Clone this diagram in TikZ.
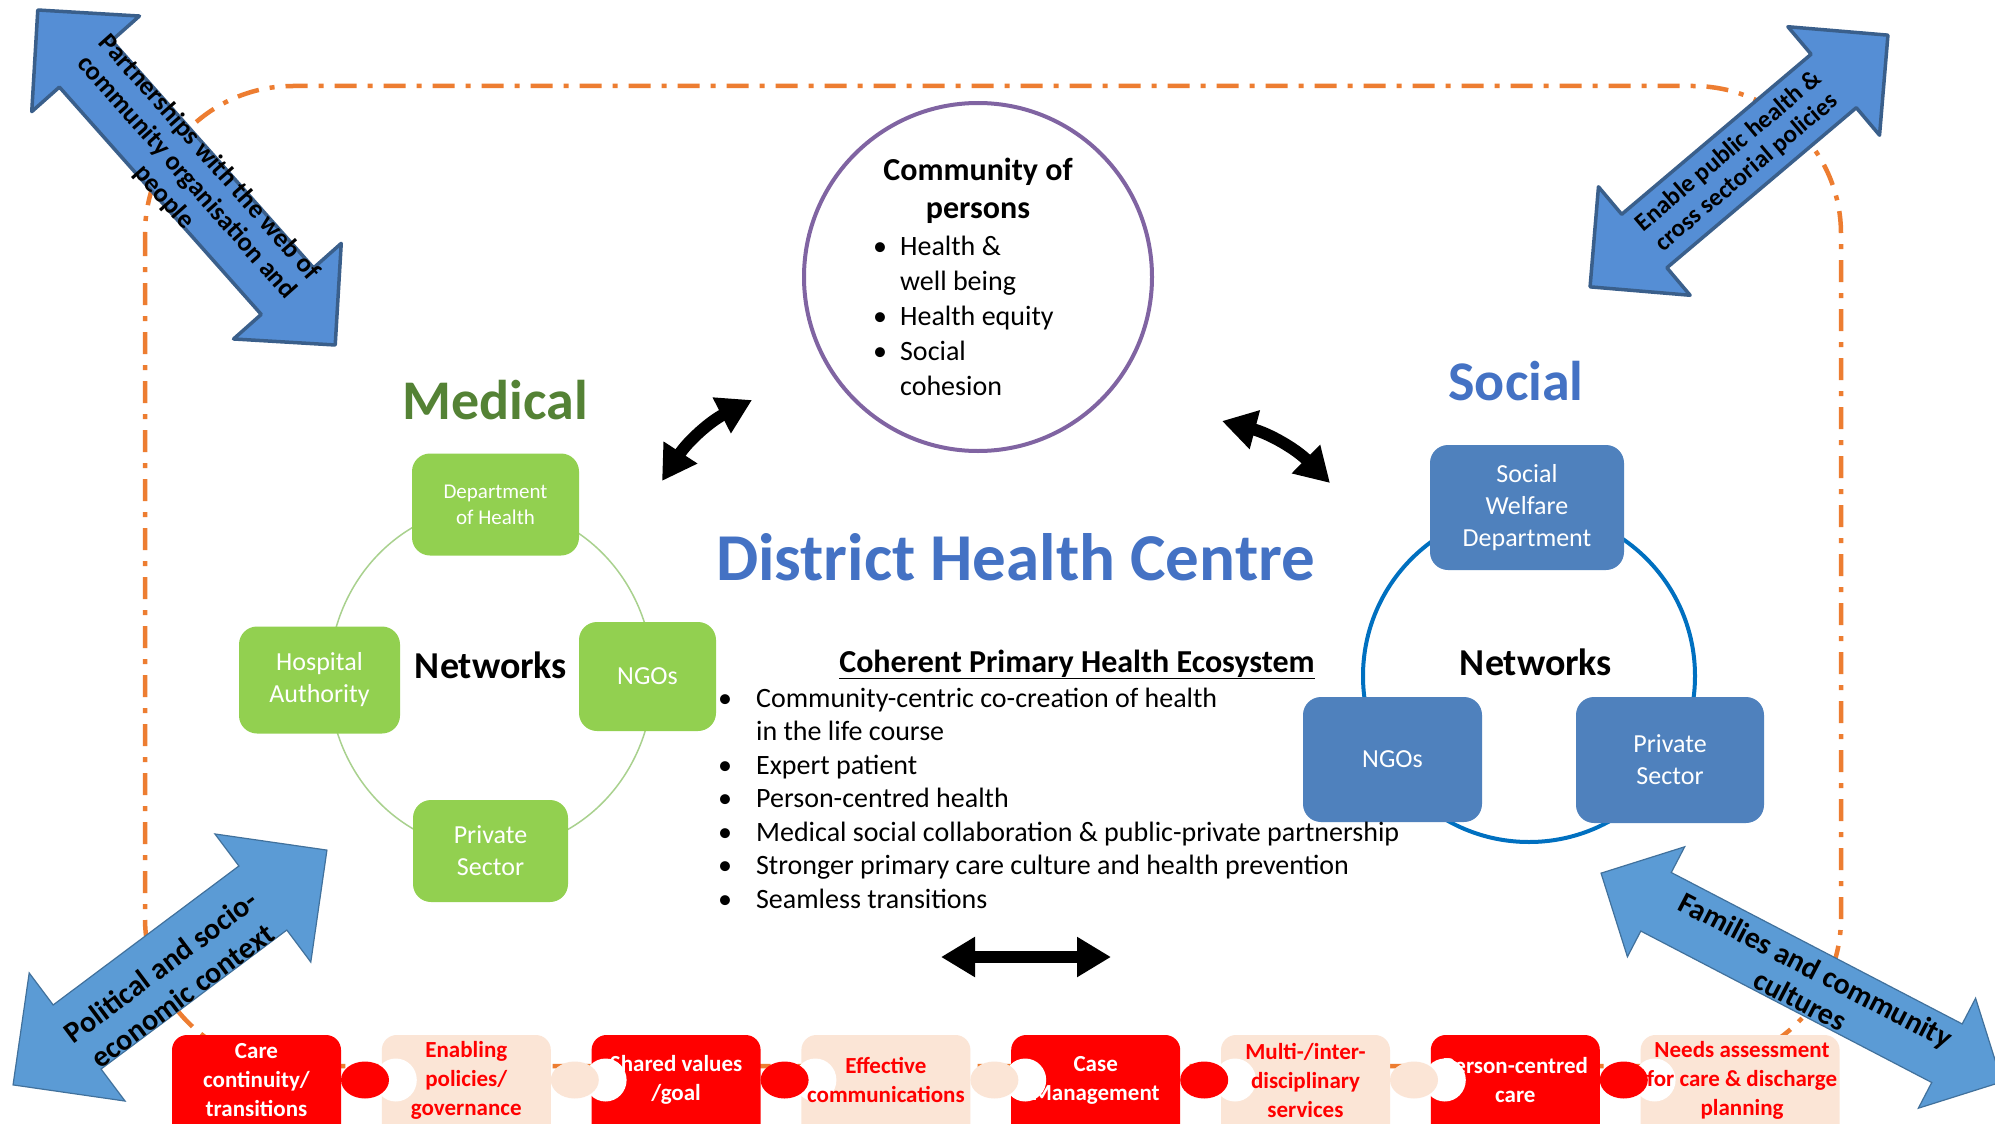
\documentclass[tikz,border=0pt]{standalone}
\usepackage{fontspec}
\setmainfont{Carlito}
\usetikzlibrary{arrows.meta}

\definecolor{framecol}{RGB}{237,125,49}
\definecolor{purplering}{RGB}{128,100,162}
\definecolor{medgreen}{RGB}{146,208,80}
\definecolor{medring}{RGB}{169,209,142}
\definecolor{medtitle}{RGB}{84,130,53}
\definecolor{socblue}{RGB}{79,129,189}
\definecolor{socring}{RGB}{0,112,192}
\definecolor{soctitle}{RGB}{68,114,196}
\definecolor{arrowblue}{RGB}{85,142,213}
\definecolor{arrowedge}{RGB}{58,95,139}
\definecolor{arrowlight}{RGB}{91,155,213}
\definecolor{arrowlightedge}{RGB}{65,113,156}
\definecolor{piecered}{RGB}{255,0,0}
\definecolor{piecepeach}{RGB}{251,229,214}

\newcommand{\setfs}[2]{\fontsize{#1}{#2}\selectfont}

% double block arrow: centre, angle, half length, half shaft, half head, style
\newcommand{\blockarrow}[6]{%
  \begin{scope}[shift={(#1)}, rotate=#2]
    \draw[#6] (-#3,0) -- (-#3+#5,#5) -- (-#3+#5,#4) -- (#3-#5,#4) -- (#3-#5,#5) -- (#3,0)
      -- (#3-#5,-#5) -- (#3-#5,-#4) -- (-#3+#5,-#4) -- (-#3+#5,-#5) -- cycle;
  \end{scope}}

\begin{document}
\begin{tikzpicture}
  [
    x=1pt, y=-1pt,
    frame/.style      = {draw=framecol, line width=4.5pt, dash pattern=on 22pt off 11pt on 5pt off 11pt, rounded corners=148pt},
    ring/.style       = {circle, draw, inner sep=0pt},
    medbox/.style     = {rectangle, rounded corners=18pt, fill=medgreen, text=white, align=center, font=\setfs{26}{32}},
    socbox/.style     = {rectangle, rounded corners=18pt, fill=socblue, text=white, align=center, font=\setfs{26}{32}},
    nettitle/.style   = {anchor=base, font=\bfseries\setfs{38}{42}},
    bluearrow/.style  = {fill=arrowblue, draw=arrowedge, line width=3.5pt, line join=round},
    lightarrow/.style = {fill=arrowlight, draw=arrowlightedge, line width=1.2pt},
    arrowtext/.style  = {align=center, inner sep=0pt},
    linkarrow/.style  = {line width=12pt, {Triangle[length=34pt,width=38pt]}-{Triangle[length=34pt,width=38pt]}},
    piecetext/.style  = {align=center, inner sep=0pt, font=\bfseries\setfs{23}{29}},
  ]

 \useasboundingbox (0,0) rectangle (1995,1124);
 \fill[white] (0,0) rectangle (1995,1124);
 \clip (0,0) rectangle (1995,1124);

 % outer frame
 \draw[frame] (145,86) rectangle (1841,1066);

 % community of persons
 \node[ring, draw=purplering, line width=4pt, minimum size=348pt] (persons) at (978,277) {};
 \node[align=center, font=\bfseries\setfs{32}{38}] (perstitle) at (978,191) {Community of\\persons};
 \node[anchor=north west, inner sep=0pt, font=\setfs{28}{35}] (perslist) at (873,230.5)
   {\begin{tabular}[t]{@{}l@{\hspace{13pt}}l@{}}
     \textbullet & Health \&\\
                 & well being\\
     \textbullet & Health equity\\
     \textbullet & Social\\
                 & cohesion
    \end{tabular}};

 % medical network
 \node[anchor=base, text=medtitle, font=\bfseries\setfs{56}{60}] (medical) at (495,419) {Medical};
 \draw[medring, line width=1.5pt] (491,678) ellipse[x radius=162pt, y radius=172pt];
 \node[medbox, minimum width=167pt, minimum height=102pt, font=\setfs{21}{26}] (dept) at (495.5,504.5) {Department\\of Health};
 \node[medbox, minimum width=161pt, minimum height=107pt] (hosp) at (319.5,680) {Hospital\\Authority};
 \node[medbox, minimum width=137pt, minimum height=109pt] (ngomed) at (647.5,676.5) {NGOs};
 \node[medbox, minimum width=155pt, minimum height=102pt] (privmed) at (490.5,851) {Private\\Sector};
 \node[nettitle] (mednet) at (491,678) {Networks};

 % social network
 \node[anchor=base, text=soctitle, font=\bfseries\setfs{56}{60}] (social) at (1516,400) {Social};
 \node[ring, draw=socring, line width=4pt, minimum size=332pt] (socring) at (1529,676) {};
 \node[socbox, minimum width=194pt, minimum height=125pt] (swd) at (1527,507.5) {Social\\Welfare\\Department};
 \node[socbox, minimum width=179pt, minimum height=125pt] (ngosoc) at (1392.5,759.5) {NGOs};
 \node[socbox, minimum width=188pt, minimum height=126pt] (privsoc) at (1670,760) {Private\\Sector};
 \node[nettitle] (socnet) at (1536,675) {Networks};

 % centre
 \node[anchor=base, text=soctitle, font=\bfseries\setfs{67}{72}] (dhc) at (1015.5,580) {District Health Centre};
 \node[anchor=base, font=\bfseries\setfs{32}{36}] (ecotitle) at (1077,672) {\underline{Coherent Primary Health Ecosystem}};
 \node[anchor=north west, inner sep=0pt, font=\setfs{28}{33.5}] (ecolist) at (718,683.5)
   {\begin{tabular}[t]{@{}l@{\hspace{24pt}}l@{}}
     \textbullet & Community-centric co-creation of health\\
                 & in the life course\\
     \textbullet & Expert patient\\
     \textbullet & Person-centred health\\
     \textbullet & Medical social collaboration \& public-private partnership\\
     \textbullet & Stronger primary care culture and health prevention\\
     \textbullet & Seamless transitions
    \end{tabular}};

 % links
 \coordinate (medtip) at (662,481);
 \coordinate (perstipA) at (752,400);
 \coordinate (perstipB) at (1222,421);
 \coordinate (soctip) at (1330,483);
 \coordinate (ecoL) at (941,957);
 \coordinate (ecoR) at (1111,957);
 \draw[linkarrow] (medtip) to[bend left=15] (perstipA);
 \draw[linkarrow] (perstipB) to[bend left=15] (soctip);
 \draw[linkarrow] (ecoL) -- (ecoR);

 % puzzle pieces
 \foreach \i/\w in {0/169,1/169,2/169,3/169,4/169,5/169,6/169,7/199} {
   \ifodd\i \def\pc{piecepeach}\else \def\pc{piecered}\fi
   \fill[\pc, rounded corners=15pt] ({172+209.8*\i},1035) rectangle ++(\w,120);
 }
 \foreach \i in {0,...,6} {
   \ifodd\i \def\pc{piecepeach}\else \def\pc{piecered}\fi
   \fill[white] ({172+209.8*(\i+1)+14},1080) ellipse[x radius=21pt, y radius=21.5pt];
   \fill[\pc] ({172+209.8*\i+193},1080) ellipse[x radius=24pt, y radius=18.5pt];
 }
 \node[piecetext, text=white]    (care)    at (256.5,1080)  {Care\\continuity/\\transitions};
 \node[piecetext, text=piecered] (enable)  at (466.3,1080)  {Enabling\\policies/\\governance};
 \node[piecetext, text=white]    (shared)  at (676.1,1080)  {Shared values\\/goal};
 \node[piecetext, text=piecered] (comms)   at (885.9,1080)  {Effective\\communications};
 \node[piecetext, text=white]    (casem)   at (1095.7,1080) {Case\\Management};
 \node[piecetext, text=piecered] (multi)   at (1305.5,1080) {Multi-/inter-\\disciplinary\\services};
 \node[piecetext, text=white]    (pcare)   at (1515.3,1080) {Person-centred\\care};
 \node[piecetext, text=piecered] (needs)   at (1742,1080)   {Needs assessment\\for care \& discharge\\planning};

 % context arrows
 \blockarrow{186.5,177.5}{-48.4}{224}{35}{72}{bluearrow}
 \node[arrowtext, rotate=-48.4, font=\bfseries\setfs{26.5}{30}] (partner) at (186.5,177.5)
   {Partnerships with the web of\\community organisation and\\people};
 \blockarrow{1739,161}{40.2}{195}{35}{71}{bluearrow}
 \node[arrowtext, rotate=40.2, font=\bfseries\setfs{25}{28}] (policy) at (1738,162)
   {Enable public health \&\\cross sectorial policies};
 \blockarrow{170,967.5}{36.8}{196}{40}{80}{lightarrow}
 \node[arrowtext, rotate=36.8, font=\bfseries\setfs{30}{36}] (politic) at (171.5,981)
   {Political and socio-\\economic context};
 \blockarrow{1801.5,977.5}{-27.5}{226}{33}{62}{lightarrow}
 \node[arrowtext, rotate=-27.5, font=\bfseries\setfs{30}{34}] (family) at (1808,985)
   {Families and community\\cultures};

\end{tikzpicture}
\end{document}
